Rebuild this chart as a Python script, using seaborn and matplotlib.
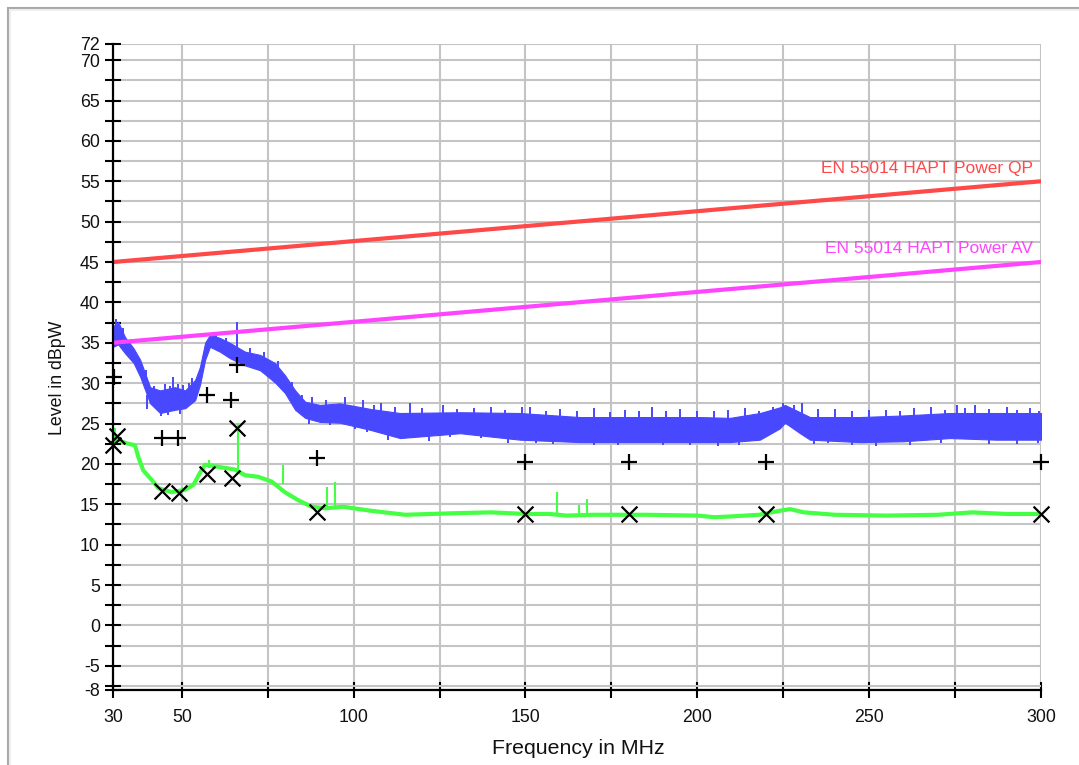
import numpy as np
import pandas as pd
import seaborn as sns
import matplotlib.pyplot as plt
from matplotlib.patches import Rectangle

# --- data ---
# limit lines (EN 55014 disturbance power, 30-300 MHz)
limit_f = [30, 300]
limit_qp = [45, 55]
limit_av = [35, 45]

# peak trace (blue): envelope of the noisy sweep
peak_f = [30, 31.5, 33.5, 36, 37.9, 40.8, 43.7, 48, 51, 53.9, 55.3, 56.8, 58.2, 61.1, 64,
          68.4, 72.8, 77.1, 80, 83, 85.9, 90.2, 96, 105, 113.5, 131, 148.4, 165.9, 183.3,
          200.8, 209.5, 218.2, 224, 225.5, 229.9, 232.8, 247.3, 260, 273.5, 287, 300]
peak_top = [37.0, 37.6, 35.7, 34.3, 32.9, 29.5, 29.1, 29.5, 29.1, 30.4, 32.0, 35.0, 36.0, 35.6, 35.0,
            33.9, 33.5, 32.5, 31.0, 29.1, 27.7, 27.3, 27.5, 26.8, 26.3, 26.4, 26.3, 25.8, 25.8,
            25.8, 25.7, 26.3, 27.0, 27.3, 26.4, 25.8, 25.8, 26.0, 26.3, 26.3, 26.3]
peak_bot = [34.5, 34.8, 33.7, 32.5, 30.8, 27.5, 26.3, 26.7, 26.9, 27.9, 29.8, 32.9, 34.5, 33.9, 33.1,
            32.2, 31.6, 30.1, 28.8, 26.7, 25.7, 25.2, 25.1, 24.2, 23.2, 23.8, 23.0, 22.7, 22.7,
            22.7, 22.7, 23.0, 24.4, 25.1, 23.8, 23.0, 22.7, 22.8, 23.2, 23.0, 23.0]

# spikes sticking out above the blue band
up_f = [31, 33, 39.5, 42, 45.1, 46.5, 47.5, 49, 50.5, 52, 53, 60, 63, 66.2, 70, 74, 78, 82, 85, 88,
        92, 97.5, 102.8, 106, 108, 112, 116.4, 120, 126, 130, 135, 140, 144, 148.9, 151.3, 156,
        160, 165, 170, 174.6, 179, 183, 186.7, 191, 195, 200, 205, 209, 214, 218, 222, 225, 228,
        230.4, 235, 240, 245, 250, 255, 259, 263, 268, 272, 275.5, 278, 280.8, 285, 290, 293,
        296.8, 299.5]
up_lo = [36.0, 35.5, 30.0, 28.5, 28.0, 28.0, 28.0, 28.0, 28.0, 28.5, 29.0, 35.0, 34.5, 33.5, 33.0,
         32.5, 31.5, 29.5, 27.5, 26.5, 26.0, 26.0, 25.5, 25.0, 25.0, 24.8, 24.5, 24.5, 24.5, 24.5,
         24.5, 24.5, 24.5, 24.5, 24.5, 24.5, 24.5, 24.5, 24.5, 24.5, 24.5, 24.5, 24.5, 24.5, 24.5,
         24.5, 24.5, 24.5, 24.5, 24.5, 25.0, 26.0, 25.5, 25.0, 24.5, 24.5, 24.5, 24.5, 24.5, 24.5,
         24.5, 24.5, 24.5, 24.5, 24.5, 24.5, 24.5, 24.5, 24.5, 24.5, 24.5]
up_hi = [38.0, 36.8, 31.6, 29.6, 29.9, 29.6, 30.8, 29.9, 29.8, 30.0, 30.6, 36.3, 35.6, 37.6, 34.3,
         33.8, 32.8, 30.2, 28.5, 28.3, 27.9, 28.3, 27.9, 27.3, 27.6, 27.0, 27.5, 26.9, 27.3, 26.8,
         26.9, 27.0, 26.7, 27.0, 27.0, 26.6, 26.8, 26.5, 26.9, 26.4, 26.7, 26.5, 27.0, 26.6, 26.8,
         26.5, 26.6, 26.7, 26.9, 26.5, 27.0, 27.5, 27.3, 27.5, 26.8, 26.8, 26.6, 26.7, 26.7, 26.6,
         26.9, 27.0, 26.7, 27.3, 26.9, 27.3, 26.8, 27.0, 26.7, 26.9, 26.6]

# dips below the blue band
dn_f = [40, 44, 46, 49.5, 87, 93, 100.5, 104, 110, 122, 128, 137, 145, 153, 158, 170, 177, 190,
        198, 206, 212, 234, 238, 245, 252, 262, 271, 285, 293, 299]
dn_lo = [26.8, 25.9, 26.0, 26.2, 25.0, 24.8, 24.3, 24.0, 23.0, 22.8, 23.3, 23.2, 22.6, 22.6, 22.5,
         22.3, 22.4, 22.4, 22.3, 22.2, 22.3, 22.5, 22.6, 22.3, 22.2, 22.4, 22.6, 22.5, 22.5, 22.6]
dn_hi = [28.5, 27.5, 27.5, 27.5, 26.5, 26.0, 25.5, 25.0, 24.5, 24.5, 24.5, 24.5, 24.5, 24.5, 24.5,
         24.5, 24.5, 24.5, 24.5, 24.5, 24.5, 24.5, 24.5, 24.5, 24.5, 24.5, 24.5, 24.5, 24.5, 24.5]

# average trace (green)
avg_f = [30, 30.6, 33.5, 36.4, 37.4, 38.8, 41.3, 43.2, 47.1, 50.9, 53.4, 55.3, 56.8, 59.7, 62.6,
         65.5, 68.4, 72.3, 76.2, 80, 83.9, 87.8, 91.7, 97, 100, 105, 115, 130, 140, 150, 157,
         162, 170, 185, 200, 205, 210, 218, 224, 227, 231, 240, 255, 270, 280, 290, 300]
avg_lvl = [23.0, 23.2, 22.6, 22.3, 20.8, 19.2, 18.0, 17.0, 16.5, 16.8, 17.4, 18.9, 19.9, 19.7, 19.5,
           19.3, 18.6, 18.4, 17.8, 16.5, 15.5, 14.7, 14.5, 14.7, 14.5, 14.2, 13.7, 13.9, 14.0, 13.8, 13.8,
           13.6, 13.7, 13.7, 13.6, 13.4, 13.5, 13.7, 14.2, 14.4, 14.0, 13.7, 13.6, 13.7, 14.0, 13.8, 13.8]
avg_spike_f = [30.5, 58, 66.3, 79.5, 92.2, 94.6, 159.2, 165.6, 167.9]
avg_spike_lo = [22.5, 19.5, 19.2, 17.5, 14.5, 14.5, 13.7, 13.7, 13.7]
avg_spike_hi = [24.5, 20.5, 25.1, 19.9, 17.2, 17.8, 16.5, 14.9, 15.7]

# final measurement points
qp_f = [30.3, 44.3, 48.8, 57.4, 64.3, 66.0, 89.4, 150, 180, 220, 300]
qp_lvl = [30.8, 23.2, 23.2, 28.5, 27.9, 32.3, 20.7, 20.2, 20.2, 20.2, 20.2]
av_f = [30.0, 31.1, 44.3, 49.2, 57.4, 64.7, 66.0, 89.4, 150, 180, 220, 300]
av_lvl = [22.4, 23.4, 16.7, 16.4, 18.8, 18.2, 24.4, 14.0, 13.8, 13.8, 13.8, 13.8]

x_ticks = [30, 50, 75, 100, 125, 150, 175, 200, 225, 250, 275, 300]
x_labels = ['30', '50', '', '100', '', '150', '', '200', '', '250', '', '300']

blue = '#4848FF'
green = '#44FF44'
red = '#FF4848'
magenta = '#FF44FF'

sns.set_style('white')
plt.rcParams['font.family'] = ['Liberation Sans', 'DejaVu Sans']

fig = plt.figure(figsize=(10.79, 7.65), dpi=100)
ax = fig.add_axes([113 / 1079, 1 - 690 / 765, 928 / 1079, 646 / 765])

# frame around the figure
fig.patches.append(Rectangle((8 / 1079, -0.1), 1.2, 1.1 - 8 / 765, transform=fig.transFigure,
                             fill=False, edgecolor='#a8a8a8', linewidth=1.5))
fig.patches.append(Rectangle((10 / 1079, -0.1), 1.2, 1.1 - 10 / 765, transform=fig.transFigure,
                             fill=False, edgecolor='#eeeeee', linewidth=1.5))

# peak trace
ax.fill_between(peak_f, peak_bot, peak_top, color=blue, linewidth=0.8, zorder=2)
ax.vlines(up_f, up_lo, up_hi, color=blue, linewidth=1.4, zorder=2)
ax.vlines(dn_f, dn_lo, dn_hi, color=blue, linewidth=1.4, zorder=2)

# average trace
sns.lineplot(x=avg_f, y=avg_lvl, color=green, linewidth=3.0, ax=ax, zorder=2)
ax.vlines(avg_spike_f, avg_spike_lo, avg_spike_hi, color=green, linewidth=1.5, zorder=2)

# limit lines
limits = pd.DataFrame({'f': limit_f, 'qp': limit_qp, 'av': limit_av})
sns.lineplot(data=limits, x='f', y='qp', color=red, linewidth=3, ax=ax, zorder=3)
sns.lineplot(data=limits, x='f', y='av', color=magenta, linewidth=3, ax=ax, zorder=3)
ax.text(297.7, 56.6, 'EN 55014 HAPT Power QP', color=red, fontsize=12.5, ha='right', va='center')
ax.text(297.7, 46.7, 'EN 55014 HAPT Power AV', color=magenta, fontsize=12.5, ha='right', va='center')

# final results
sns.scatterplot(x=qp_f, y=qp_lvl, marker='+', s=120, color='black', linewidth=1.6, ax=ax,
                zorder=5, clip_on=False)
sns.scatterplot(x=av_f, y=av_lvl, marker='x', s=130, color='black', linewidth=1.6, ax=ax,
                zorder=5, clip_on=False)

ax.set_xlim(30, 300)
ax.set_ylim(-8, 72)

y_ticks = [-8] + [-7.5 + 2.5 * i for i in range(32)] + [72]
y_labels = [('%g' % v) if (v in (-8, 72) or v % 5 == 0) else '' for v in y_ticks]
ax.set_yticks(y_ticks)
ax.set_yticklabels(y_labels)
ax.set_xticks(x_ticks)
ax.set_xticklabels(x_labels)

ax.tick_params(axis='both', direction='inout', length=11, width=1.5, color='black',
               labelsize=12.8, labelcolor='#111111', bottom=True, left=True)
ax.tick_params(axis='y', pad=4.0)
ax.tick_params(axis='x', pad=8.0)

ax.grid(True, color='#c4c4c4', linewidth=1.5, zorder=0)
ax.set_axisbelow(True)
for side in ['top', 'right']:
    ax.spines[side].set_visible(False)
for side in ['left', 'bottom']:
    ax.spines[side].set_color('black')
    ax.spines[side].set_linewidth(1.6)
    ax.spines[side].set_zorder(6)

ax.set_xlabel('Frequency in MHz', fontsize=15.3, color='#111111')
ax.set_ylabel('Level in dBpW', fontsize=12.8, color='#111111')
ax.xaxis.set_label_coords(0.501, -0.076)
ax.yaxis.set_label_coords(-0.051, 0.483)

plt.savefig('out.png', dpi=100)
plt.close()
